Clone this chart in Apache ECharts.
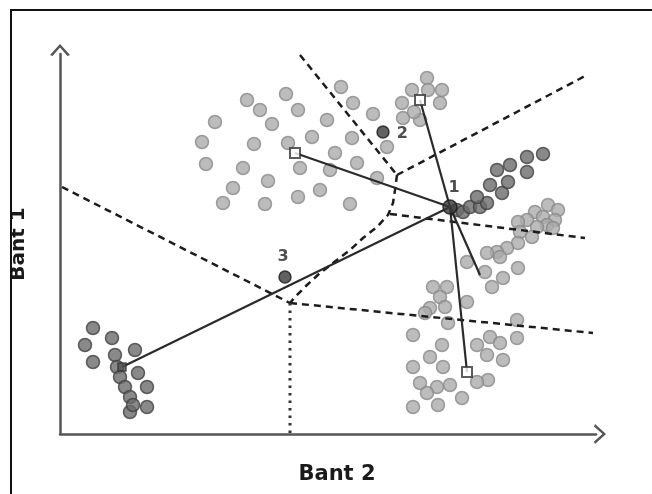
<!DOCTYPE html>
<html>
<head>
<meta charset="utf-8">
<script src="https://cdn.jsdelivr.net/npm/echarts@6/dist/echarts.min.js"></script>
<style>
  html, body { margin: 0; padding: 0; background: #fff; }
  #wrap { position: relative; width: 652px; height: 494px; overflow: hidden; }
  #frame { position: absolute; left: 10px; top: 9px; right: -10px; bottom: -10px;
           border-top: 2px solid #111; border-left: 2px solid #111; pointer-events: none; }
  #chart { position: absolute; left: 0; top: 0; width: 652px; height: 494px; }
</style>
</head>
<body>
<div id="wrap"><div id="chart"></div><div id="frame"></div></div>
<script>
// Axis titles
const xTitle = 'Bant 2';
const yTitle = 'Bant 1';

// Cluster points (Bant 2, Bant 1)
const clusterTopLeft = [[187,334],[200,324],[226,340],[155,312],[212,310],[238,324],[281,347],[293,331],[267,314],[313,320],[142,292],[194,290],[228,291],[252,297],[292,296],[327,287],[275,281],[146,270],[183,266],[240,266],[270,264],[297,271],[317,256],[208,253],[173,246],[260,244],[238,237],[163,231],[205,230],[290,230]];
const clusterTop = [[367,356],[352,344],[382,344],[342,331],[380,331],[343,316],[360,314],[354,322],[368,344]];
const clusterHub = [[397,224],[403,222],[410,227],[420,227],[427,231],[417,237],[430,249],[442,241],[448,252],[437,264],[450,269],[467,277],[483,280],[467,262]];
const clusterRight = [[488,229],[498,224],[475,222],[483,217],[495,214],[467,214],[458,212],[487,209],[477,207],[493,206],[460,202],[472,197],[458,191],[447,186],[437,182],[427,181],[440,177],[458,166],[443,156],[432,147],[407,172],[425,162]];
const clusterBottom = [[373,147],[387,147],[380,137],[407,132],[370,126],[385,127],[365,121],[388,111],[353,99],[430,97],[457,114],[457,96],[440,91],[417,89],[382,89],[370,77],[427,79],[443,74],[353,67],[383,67],[428,54],[360,51],[377,47],[390,49],[367,41],[402,36],[353,27],[378,29],[417,52]];
const clusterLeft = [[33,106],[52,96],[25,89],[55,79],[75,84],[33,72],[57,67],[78,61],[60,57],[87,47],[65,47],[70,37],[70,22],[87,27],[73,29]];

// Centres
const hub = [390,227];
const centreTopLeft = [235,281];
const centreTop = [360,334];
const centreBottom = [407,62];
const centreRight = [420,159];
const centreLeft = [62,67];

// Numbered points
const pointLabels = ['1','2','3'];
const point2 = [323,302];
const point3 = [225,157];

// Boundary lines
const boundTop = [[240,379],[337,259]];
const boundUpperRight = [[337,259],[527,359]];
const boundCurve = [[337,259],[335,244],[333,231],[328,219],[317,207],[303,196],[290,184],[277,174],[260,161],[247,149],[235,137],[230,131]];
const boundRight = [[330,220],[525,196]];
const boundLeft = [[2,247],[230,131]];
const boundBottomRight = [[230,131],[533,101]];
const boundVertical = [[230,131],[230,0]];

const chev = 'path://M0,11 L10,0 L20,11 L17.5,12 L10,3.5 L2.5,12 Z';

const lightStyle = { color: '#ababab', borderColor: '#888', borderWidth: 1.5 };
const darkStyle = { color: '#6c6c6c', borderColor: '#404040', borderWidth: 1.5 };

function scatter(data, style, size) {
  return { type: 'scatter', data: data, symbolSize: size || 13, itemStyle: style, z: 2, silent: true };
}
function seg(data, lineStyle) {
  return { type: 'line', data: data, showSymbol: false, symbol: 'none', lineStyle: lineStyle, z: 3, silent: true };
}
const dashed = { color: '#1c1c1c', width: 2.5, type: [7, 5] };
const solid = { color: '#2a2a2a', width: 2.2 };

const chart = echarts.init(document.getElementById('chart'));
chart.setOption({
  animation: false,
  backgroundColor: 'transparent',
  grid: { left: 60, right: 56, top: 54, bottom: 60 },
  xAxis: {
    type: 'value', min: 0, max: 536,
    name: xTitle, nameLocation: 'middle', nameGap: 30,
    nameTextStyle: { fontFamily: 'DejaVu Sans', fontWeight: 'bold', fontSize: 21, color: '#1a1a1a', padding: [0, 0, 0, 18] },
    axisLine: { lineStyle: { color: '#555', width: 2.5 }, symbol: ['none', chev], symbolSize: [20, 12], symbolOffset: [0, 4] },
    axisTick: { show: false }, axisLabel: { show: false }, splitLine: { show: false }
  },
  yAxis: {
    type: 'value', min: 0, max: 380,
    name: yTitle, nameLocation: 'middle', nameGap: 31, nameRotate: 90,
    nameTextStyle: { fontFamily: 'DejaVu Sans', fontWeight: 'bold', fontSize: 20, color: '#1a1a1a' },
    axisLine: { lineStyle: { color: '#555', width: 2.5 }, symbol: ['none', chev], symbolSize: [20, 12], symbolOffset: [0, 4] },
    axisTick: { show: false }, axisLabel: { show: false }, splitLine: { show: false }
  },
  series: [
    scatter(clusterTopLeft, lightStyle),
    scatter(clusterTop, lightStyle),
    scatter(clusterRight, lightStyle),
    scatter(clusterBottom, lightStyle),
    scatter(clusterHub, darkStyle),
    scatter(clusterLeft, darkStyle),
    seg(boundTop, dashed),
    seg(boundUpperRight, dashed),
    seg(boundCurve, dashed),
    seg(boundRight, dashed),
    seg(boundLeft, dashed),
    seg(boundBottomRight, dashed),
    seg(boundVertical, { color: '#333', width: 3, type: [2.5, 5] }),
    seg([centreTopLeft, hub], solid),
    seg([centreTop, hub], solid),
    seg([centreBottom, hub], solid),
    seg([centreRight, hub], solid),
    seg([centreLeft, hub], solid),
    {
      type: 'scatter', z: 5, silent: true, symbol: 'rect', symbolSize: 10,
      itemStyle: { color: '#fff', borderColor: '#333', borderWidth: 2 },
      data: [centreTopLeft, centreTop, centreBottom]
    },
    {
      type: 'scatter', z: 5, silent: true, symbol: 'rect', symbolSize: 8,
      itemStyle: { color: '#555', borderColor: '#333', borderWidth: 1.5 },
      data: [centreLeft]
    },
    {
      type: 'scatter', z: 6, silent: true, symbolSize: 14,
      itemStyle: { color: '#3a3a3a', borderColor: '#1a1a1a', borderWidth: 1.5 },
      label: { show: true, fontFamily: 'DejaVu Sans', fontWeight: 'bold', fontSize: 16, color: '#222',
               formatter: p => p.data.name },
      data: [
        { value: hub, name: pointLabels[0], label: { position: 'top', offset: [4, 2] } },
        { value: point2, name: pointLabels[1], symbolSize: 12, label: { position: 'right', offset: [2, 2] } },
        { value: point3, name: pointLabels[2], symbolSize: 12, label: { position: 'top', offset: [-2, 0] } }
      ]
    }
  ]
});
</script>
</body>
</html>
